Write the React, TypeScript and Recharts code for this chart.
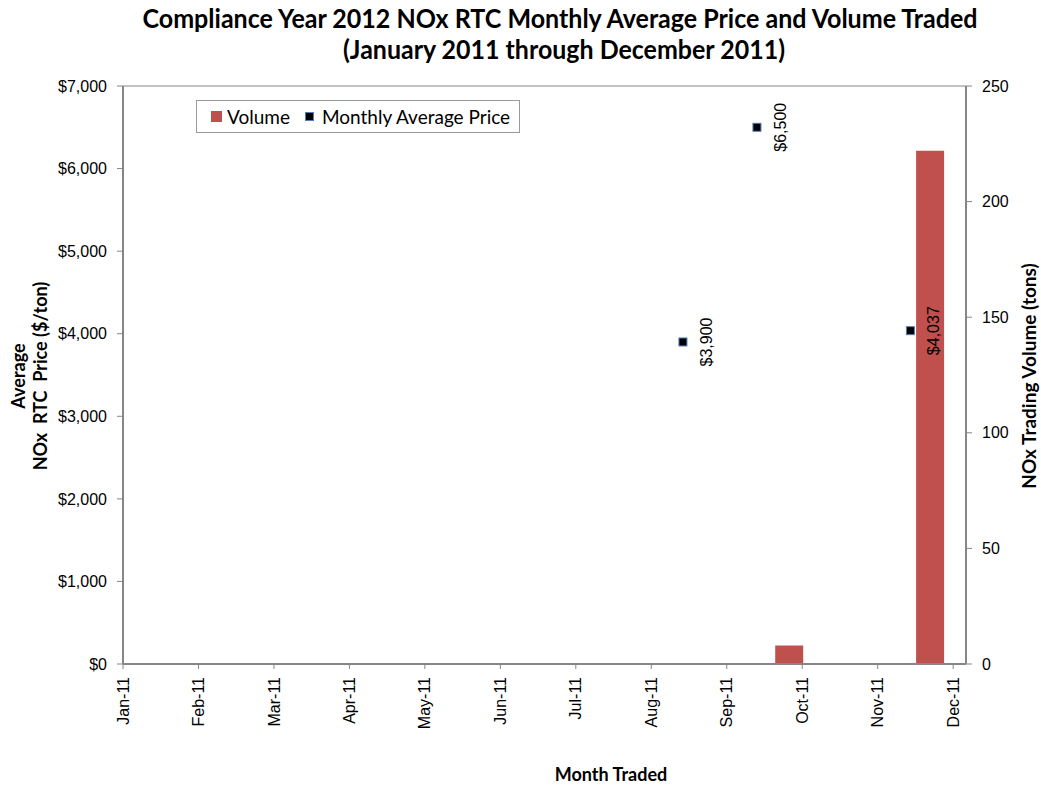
import React from 'react';
import { ComposedChart, Bar, Scatter, XAxis, YAxis, Legend, ReferenceLine } from 'recharts';

// month tick labels on the date axis
const MONTHS = ['Jan-11', 'Feb-11', 'Mar-11', 'Apr-11', 'May-11', 'Jun-11', 'Jul-11', 'Aug-11', 'Sep-11', 'Oct-11', 'Nov-11', 'Dec-11'];

// monthly average price ($/ton) and the day it was recorded
const PRICE_DATES = ['2011-08-14', '2011-09-13', '2011-11-14'];
const PRICE_VALUES = [3900, 6500, 4037];

// volume traded (tons)
const VOLUME_DATES = ['2011-09-26', '2011-11-22'];
const VOLUME_VALUES = [8, 222];

const PRICE_TICKS = [0, 1000, 2000, 3000, 4000, 5000, 6000, 7000];
const VOLUME_TICKS = [0, 50, 100, 150, 200, 250];

// date -> month position (Jan = 0)
const monthPos = (date: string) => {
  const [y, m, d] = date.split('-').map(Number);
  const days = new Date(y, m, 0).getDate();
  return m - 1 + (d - 1) / days;
};

const volumeData = VOLUME_DATES.map((d, i) => ({ m: monthPos(d), volume: VOLUME_VALUES[i] }));
const priceData = PRICE_DATES.map((d, i) => ({ m: monthPos(d), price: PRICE_VALUES[i] }));

const X_DOMAIN: [number, number] = [0, 11.17];

const BAR_COLOR = '#C0504D';
const AXIS_COLOR = '#868686';
const TICK_FONT = '"Liberation Sans", Arial, sans-serif';
const TITLE_FONT = 'Lato, "Open Sans", sans-serif';

const money = (v: number) => '$' + v.toLocaleString('en-US');

const MonthTick = (props: any) => {
  const { x, y, payload } = props;
  return (
    <text
      x={x}
      y={y}
      dy="0.35em"
      transform={`rotate(-90, ${x}, ${y})`}
      textAnchor="end"
      fontSize={16}
      fontFamily={TICK_FONT}
      fill="#000"
    >
      {MONTHS[payload.value]}
    </text>
  );
};

const PriceMarker = (props: any) => {
  const { cx, cy, payload } = props;
  const lx = cx + 23;
  return (
    <g>
      <rect x={cx - 4} y={cy - 4} width={8} height={8} fill="#000" stroke="#4F81BD" strokeWidth={1} />
      <text
        x={lx}
        y={cy}
        dy="0.35em"
        transform={`rotate(-90, ${lx}, ${cy})`}
        textAnchor="middle"
        fontSize={16}
        fontFamily={TICK_FONT}
        fill="#000"
      >
        {money(payload.price)}
      </text>
    </g>
  );
};

const renderLegend = () => (
  <div
    style={{
      boxSizing: 'border-box',
      width: 324,
      height: 33,
      border: '1px solid #9a9a9a',
      background: '#fff',
      display: 'flex',
      alignItems: 'center',
      fontFamily: TITLE_FONT,
      fontSize: 19,
      color: '#000',
      whiteSpace: 'nowrap',
    }}
  >
    <span style={{ display: 'inline-block', width: 11, height: 11, background: BAR_COLOR, marginLeft: 14 }} />
    <span style={{ marginLeft: 5 }}>Volume</span>
    <span
      style={{
        display: 'inline-block',
        width: 7,
        height: 7,
        background: '#000',
        border: '1px solid #4F81BD',
        marginLeft: 15,
      }}
    />
    <span style={{ marginLeft: 8 }}>Monthly Average Price</span>
  </div>
);

export default function App() {
  return (
    <div style={{ position: 'absolute', left: 0, top: 0, width: 1041, height: 789, background: '#fff' }}>
      <ComposedChart
        width={1041}
        height={789}
        data={volumeData}
        margin={{ top: 86, right: 0, bottom: 0, left: 0 }}
      >
        <XAxis
          dataKey="m"
          type="number"
          domain={X_DOMAIN}
          ticks={MONTHS.map((_, i) => i)}
          interval={0}
          height={125}
          tickSize={5}
          tickMargin={8}
          tick={<MonthTick />}
          axisLine={{ stroke: AXIS_COLOR, strokeWidth: 2 }}
          tickLine={{ stroke: AXIS_COLOR }}
          allowDataOverflow
        />
        <XAxis xAxisId="price" dataKey="m" type="number" domain={X_DOMAIN} hide allowDataOverflow />
        <YAxis
          yAxisId="left"
          orientation="left"
          width={123}
          domain={[0, 7000]}
          ticks={PRICE_TICKS}
          tickFormatter={money}
          tickSize={6}
          tickMargin={10}
          tick={{ fontSize: 16, fontFamily: TICK_FONT, fill: '#000' }}
          axisLine={{ stroke: AXIS_COLOR, strokeWidth: 2 }}
          tickLine={{ stroke: AXIS_COLOR }}
        />
        <YAxis
          yAxisId="right"
          orientation="right"
          width={75}
          domain={[0, 250]}
          ticks={VOLUME_TICKS}
          tickSize={6}
          tickMargin={10}
          tick={{ fontSize: 16, fontFamily: TICK_FONT, fill: '#000' }}
          axisLine={{ stroke: AXIS_COLOR, strokeWidth: 2 }}
          tickLine={{ stroke: AXIS_COLOR }}
        />
        <ReferenceLine yAxisId="left" y={7000} stroke={AXIS_COLOR} strokeWidth={1} />
        <Legend
          layout="horizontal"
          verticalAlign="middle"
          align="center"
          content={renderLegend}
          wrapperStyle={{ left: 196, top: 100, width: 324, height: 33 }}
        />
        <Bar
          yAxisId="right"
          dataKey="volume"
          name="Volume"
          fill={BAR_COLOR}
          barSize={28}
          isAnimationActive={false}
        />
        <Scatter
          xAxisId="price"
          yAxisId="left"
          data={priceData}
          dataKey="price"
          name="Monthly Average Price"
          shape={<PriceMarker />}
          isAnimationActive={false}
        />
      </ComposedChart>

      <svg
        width={1041}
        height={789}
        style={{ position: 'absolute', left: 0, top: 0, pointerEvents: 'none' }}
      >
        <g fontFamily={TITLE_FONT} fontWeight="bold" fill="#000">
          <text x={560} y={28} fontSize={26} textAnchor="middle" textLength={835} lengthAdjust="spacingAndGlyphs">
            Compliance Year 2012 NOx RTC Monthly Average Price and Volume Traded
          </text>
          <text x={564} y={59} fontSize={26} textAnchor="middle" textLength={442} lengthAdjust="spacingAndGlyphs">
            (January 2011 through December 2011)
          </text>
          <text x={611} y={781} fontSize={18} textAnchor="middle">
            Month Traded
          </text>
          <text x={25} y={376} fontSize={18} textAnchor="middle" transform="rotate(-90, 25, 376)">
            Average
          </text>
          <text x={47} y={376} fontSize={18} textAnchor="middle" transform="rotate(-90, 47, 376)" style={{ whiteSpace: 'pre' }}>
            {'NOx  RTC  Price ($/ton)'}
          </text>
          <text x={1036} y={376} fontSize={19} textAnchor="middle" transform="rotate(-90, 1036, 376)">
            NOx Trading Volume (tons)
          </text>
        </g>
      </svg>
    </div>
  );
}
